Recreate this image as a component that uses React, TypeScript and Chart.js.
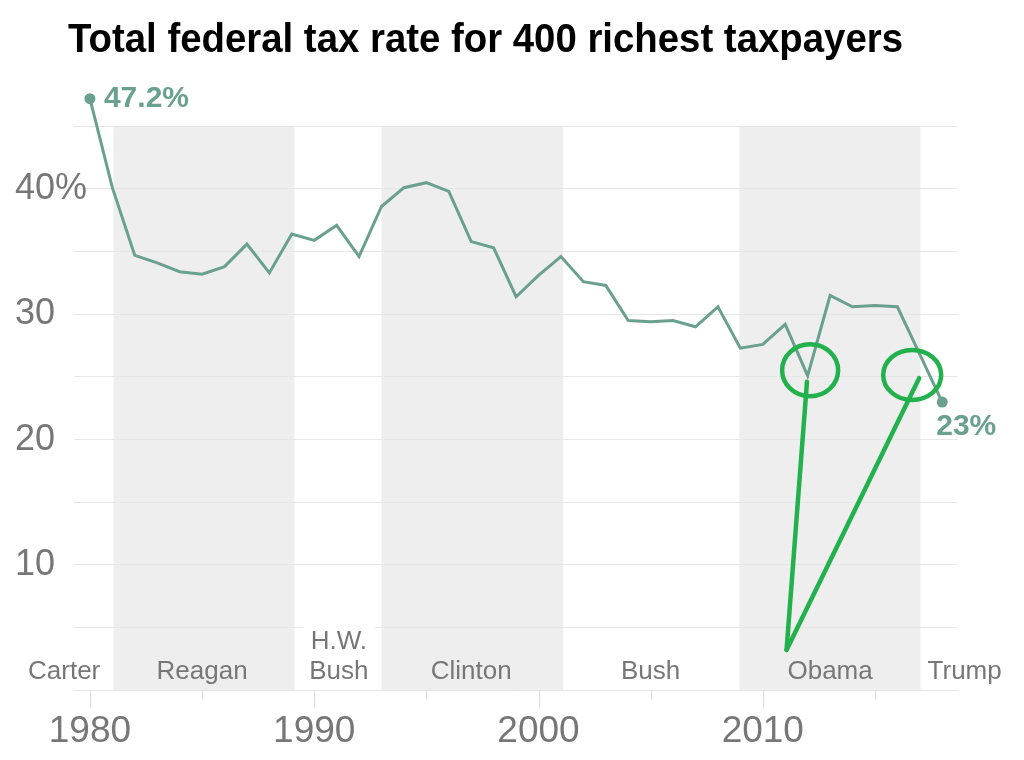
import { useEffect, useRef } from 'react';
import { Chart, registerables } from 'chart.js';

Chart.register(...registerables);

const TITLE = 'Total federal tax rate for 400 richest taxpayers';

const years = [
  1980, 1981, 1982, 1983, 1984, 1985, 1986, 1987, 1988, 1989,
  1990, 1991, 1992, 1993, 1994, 1995, 1996, 1997, 1998, 1999,
  2000, 2001, 2002, 2003, 2004, 2005, 2006, 2007, 2008, 2009,
  2010, 2011, 2012, 2013, 2014, 2015, 2016, 2017, 2018,
];
const rates = [
  47.2, 40.1, 34.7, 34.1, 33.4, 33.2, 33.8, 35.6, 33.3, 36.4,
  35.9, 37.1, 34.6, 38.6, 40.1, 40.5, 39.8, 35.8, 35.3, 31.4,
  33.1, 34.6, 32.6, 32.3, 29.5, 29.4, 29.5, 29.0, 30.6, 27.3,
  27.6, 29.2, 25.1, 31.5, 30.6, 30.7, 30.6, 26.8, 23.0,
];

const yGridValues = [0, 5, 10, 15, 20, 25, 30, 35, 40, 45];
const yTickValues = [10, 20, 30, 40];
const yTickLabels = ['10', '20', '30', '40%'];
const xTickYears = [1980, 1990, 2000, 2010];
const xTickLabels = ['1980', '1990', '2000', '2010'];
const xMinorTickYears = [1985, 1995, 2005, 2015];

const presidentNames = ['Carter', 'Reagan', 'H.W.\nBush', 'Clinton', 'Bush', 'Obama', 'Trump'];
const presidentLabelYears = [1978.85, 1985, 1991.1, 1997, 2005, 2013, 2019];
const shadedTermStarts = [1981.05, 1993.0, 2008.95];
const shadedTermEnds = [1989.12, 2001.1, 2017.03];

// hand-drawn green annotation marks (data coordinates)
const annotationCircleX = [2012.11, 2016.66];
const annotationCircleY = [25.53, 25.16];
const annotationStrokeFromX = [2011.06, 2011.06];
const annotationStrokeFromY = [3.22, 3.22];
const annotationStrokeToX = [2011.97, 2016.97];
const annotationStrokeToY = [24.62, 24.9];

const LINE = '#6aa08f';
const GRAY = '#777777';
const GRID = '#e6e6e6';
const BAND = '#eeeeee';
const MARK = '#22b14c';
const FONT = '"Liberation Sans", Arial, sans-serif';

const decorPlugin = {
  id: 'decor',
  beforeDraw(chart: any) {
    const { ctx, scales } = chart;
    const x = scales.x;
    const y = scales.y;
    const top = y.getPixelForValue(45);
    const bottom = y.getPixelForValue(0);
    ctx.save();
    ctx.fillStyle = BAND;
    shadedTermStarts.forEach((s, i) => {
      const x0 = x.getPixelForValue(s);
      const x1 = x.getPixelForValue(shadedTermEnds[i]);
      ctx.fillRect(x0, top, x1 - x0, bottom - top);
    });
    ctx.restore();
  },
  beforeDatasetsDraw(chart: any) {
    const { ctx, scales } = chart;
    const x = scales.x;
    const y = scales.y;
    const axisY = y.getPixelForValue(0);
    ctx.save();
    // tick marks below axis
    ctx.strokeStyle = '#dddddd';
    ctx.lineWidth = 1;
    const drawTick = (v: number, len: number) => {
      const px = Math.round(x.getPixelForValue(v)) + 0.5;
      ctx.beginPath();
      ctx.moveTo(px, axisY);
      ctx.lineTo(px, axisY + len);
      ctx.stroke();
    };
    xTickYears.forEach((v) => drawTick(v, 18));
    xMinorTickYears.forEach((v) => drawTick(v, 9));

    // president labels
    ctx.font = `26px ${FONT}`;
    ctx.textAlign = 'center';
    ctx.textBaseline = 'alphabetic';
    presidentNames.forEach((name, i) => {
      const yr = presidentLabelYears[i];
      const px = x.getPixelForValue(yr);
      const inBand = shadedTermStarts.some((s, j) => yr >= s && yr <= shadedTermEnds[j]);
      const lines = name.split('\n');
      lines.forEach((line, k) => {
        const base = axisY - 11 - (lines.length - 1 - k) * 30;
        const w = ctx.measureText(line).width;
        if (lines.length > 1) {
          ctx.fillStyle = inBand ? BAND : '#ffffff';
          ctx.fillRect(px - w / 2 - 8, base - 25, w + 16, 29);
        }
        ctx.fillStyle = GRAY;
        ctx.fillText(line, px, base);
      });
    });
    ctx.restore();
  },
  afterDatasetsDraw(chart: any) {
    const { ctx, scales } = chart;
    const x = scales.x;
    const y = scales.y;
    const pts = chart.getDatasetMeta(0).data;
    const first = pts[0];
    const last = pts[pts.length - 1];
    ctx.save();
    ctx.fillStyle = LINE;
    ctx.font = `bold 30px ${FONT}`;
    ctx.textAlign = 'left';
    ctx.textBaseline = 'middle';
    ctx.fillText(`${rates[0]}%`, first.x + 14, first.y);
    ctx.fillText(`${rates[rates.length - 1]}%`, last.x - 6, last.y + 25);

    // green annotations
    ctx.strokeStyle = MARK;
    ctx.lineWidth = 4.5;
    ctx.lineCap = 'round';
    annotationCircleX.forEach((cx, i) => {
      ctx.beginPath();
      ctx.ellipse(x.getPixelForValue(cx), y.getPixelForValue(annotationCircleY[i]), i === 0 ? 28 : 29, i === 0 ? 26 : 25, 0, 0, Math.PI * 2);
      ctx.stroke();
    });
    annotationStrokeFromX.forEach((fx, i) => {
      ctx.beginPath();
      ctx.moveTo(x.getPixelForValue(fx), y.getPixelForValue(annotationStrokeFromY[i]));
      ctx.lineTo(x.getPixelForValue(annotationStrokeToX[i]), y.getPixelForValue(annotationStrokeToY[i]));
      ctx.stroke();
    });
    ctx.restore();
  },
  afterDraw(chart: any) {
    const { ctx } = chart;
    ctx.save();
    ctx.fillStyle = '#000000';
    ctx.font = `bold 40px ${FONT}`;
    ctx.textAlign = 'left';
    ctx.textBaseline = 'alphabetic';
    const target = 835;
    const w = ctx.measureText(TITLE).width;
    ctx.translate(68, 52);
    ctx.scale(target / w, 1);
    ctx.fillText(TITLE, 0, 0);
    ctx.restore();
  },
};

export default function App() {
  const ref = useRef<HTMLCanvasElement>(null);
  useEffect(() => {
    if (!ref.current) return;
    const chart = new Chart(ref.current, {
      type: 'line',
      data: {
        datasets: [
          {
            data: years.map((yr, i) => ({ x: yr, y: rates[i] })),
            borderColor: LINE,
            backgroundColor: LINE,
            borderWidth: 3,
            tension: 0,
            pointRadius: (c: any) => (c.dataIndex === 0 || c.dataIndex === years.length - 1 ? 5.5 : 0),
            pointBackgroundColor: LINE,
            pointBorderWidth: 0,
            fill: false,
          },
        ],
      },
      options: {
        animation: false,
        responsive: false,
        layout: { padding: { left: 15, right: 66.3, top: 63.6, bottom: 0 } },
        plugins: {
          legend: { display: false },
          tooltip: { enabled: false },
          title: { display: false },
        },
        scales: {
          x: {
            type: 'linear',
            min: 1979.29,
            max: 2018.69,
            grid: { display: false, drawTicks: false, tickLength: 0 },
            border: { display: false },
            afterBuildTicks: (s: any) => {
              s.ticks = xTickYears.map((v) => ({ value: v }));
            },
            afterFit: (s: any) => {
              s.height = 69.7;
            },
            ticks: {
              autoSkip: false,
              maxRotation: 0,
              padding: 19,
              color: GRAY,
              font: { family: FONT, size: 37 },
              callback: (v: any) => {
                const i = xTickYears.indexOf(Number(v));
                return i >= 0 ? xTickLabels[i] : '';
              },
            },
          },
          y: {
            type: 'linear',
            min: 0,
            max: 50,
            grid: { color: GRID, lineWidth: 1, drawTicks: false },
            border: { display: false },
            afterBuildTicks: (s: any) => {
              s.ticks = yGridValues.map((v) => ({ value: v }));
            },
            afterFit: (s: any) => {
              s.width = 59;
            },
            ticks: {
              mirror: true,
              crossAlign: 'near',
              padding: -59,
              color: GRAY,
              font: { family: FONT, size: 36 },
              callback: (v: any) => {
                const i = yTickValues.indexOf(Number(v));
                return i >= 0 ? yTickLabels[i] : '';
              },
            },
          },
        },
      },
      plugins: [decorPlugin],
    } as any);
    return () => chart.destroy();
  }, []);
  return (
    <div style={{ position: 'absolute', left: 0, top: 0, width: 1024, height: 760, background: '#ffffff' }}>
      <canvas ref={ref} width={1024} height={760} style={{ display: 'block', width: 1024, height: 760 }} />
    </div>
  );
}
